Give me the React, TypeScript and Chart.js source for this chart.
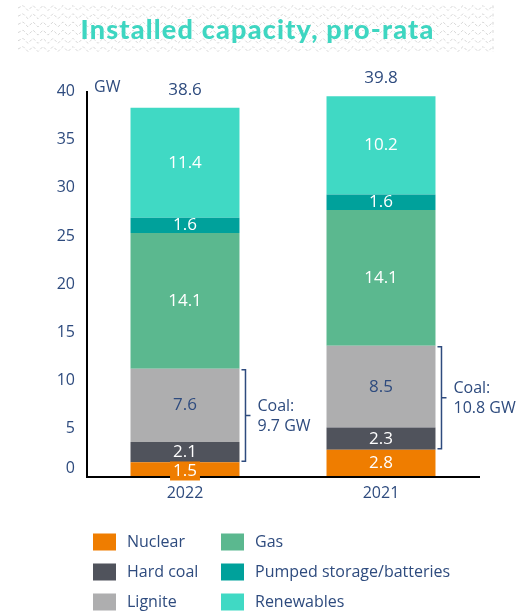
import React, { useEffect, useRef } from "react";
import { Chart, registerables } from "chart.js";

Chart.register(...registerables);

// ---- data ----
const categories = ["2022", "2021"];
const seriesNames = ["Nuclear", "Hard coal", "Lignite", "Gas", "Pumped storage/batteries", "Renewables"];
const nuclear = [1.5, 2.8];
const hardCoal = [2.1, 2.3];
const lignite = [7.6, 8.5];
const gas = [14.1, 14.1];
const pumped = [1.6, 1.6];
const renewables = [11.4, 10.2];
const totals = [38.6, 39.8];
const coalTotals = [9.7, 10.8];
const yTicks = [0, 5, 10, 15, 20, 25, 30, 35, 40];
const unitLabel = "GW";
const titleText = "Installed capacity, pro-rata";

// ---- styles ----
const series = [nuclear, hardCoal, lignite, gas, pumped, renewables];
const colors = ["#EF7D00", "#50535C", "#AEAEAF", "#5BB88F", "#00A19B", "#40D9C4"];
const labelColors = ["#FFFFFF", "#FFFFFF", "#2E4B7E", "#FFFFFF", "#FFFFFF", "#FFFFFF"];
const BLUE = "#2E4B7E";
const TEAL = "#3ED6C1";
const FONT = "'Open Sans', sans-serif";

const overlay = {
  id: "overlay",
  beforeDraw(chart: any) {
    const ctx = chart.ctx as CanvasRenderingContext2D;
    ctx.save();
    // zigzag pattern behind title
    ctx.strokeStyle = "#D6D6D6";
    ctx.lineWidth = 1;
    const x0 = 18, x1 = 493;
    for (let row = 0; row < 6; row++) {
      const yc = 8 + row * 8.2;
      ctx.beginPath();
      let up = true;
      ctx.moveTo(x0, yc);
      for (let x = x0; x <= x1; x += 5) {
        ctx.lineTo(Math.min(x + 5, x1), yc + (up ? -2.5 : 2.5));
        up = !up;
      }
      ctx.setLineDash([3, 2]);
      ctx.stroke();
    }
    ctx.setLineDash([]);
    ctx.fillStyle = TEAL;
    ctx.font = "900 27px Lato, sans-serif";
    (ctx as any).letterSpacing = "1.2px";
    ctx.textAlign = "center";
    ctx.textBaseline = "middle";
    ctx.fillText(titleText, 257.5, 30);
    (ctx as any).letterSpacing = "0px";
    ctx.restore();
  },
  afterDraw(chart: any) {
    const ctx = chart.ctx as CanvasRenderingContext2D;
    const yScale = chart.scales.y;
    const area = chart.chartArea;
    ctx.save();
    // y tick labels
    ctx.font = `16px ${FONT}`;
    ctx.fillStyle = BLUE;
    ctx.textAlign = "right";
    ctx.textBaseline = "middle";
    yTicks.forEach((t) => {
      const y = yScale.getPixelForValue(t) - (t === 0 ? 8 : 0);
      ctx.fillText(String(t), 75, y);
    });
    ctx.textAlign = "left";
    ctx.fillText(unitLabel, 94, 87);

    // value labels
    ctx.font = `17px ${FONT}`;
    ctx.textAlign = "center";
    series.forEach((s, i) => {
      const meta = chart.getDatasetMeta(i);
      meta.data.forEach((el: any, j: number) => {
        const cx = el.x;
        let cy = (el.y + el.base) / 2;
        const txt = s[j].toFixed(1);
        if (cy + 10 > area.bottom) {
          cy += 1.5;
          const w = ctx.measureText(txt).width + 6;
          ctx.fillStyle = colors[i];
          ctx.fillRect(cx - w / 2, cy - 9.5, w, 19);
        }
        ctx.fillStyle = labelColors[i];
        ctx.fillText(txt, cx, cy);
      });
    });

    // totals
    ctx.fillStyle = BLUE;
    const topMeta = chart.getDatasetMeta(series.length - 1);
    topMeta.data.forEach((el: any, j: number) => {
      ctx.fillText(totals[j].toFixed(1), el.x, yScale.getPixelForValue(totals[j]) - 15);
    });

    // coal brackets
    const nucMeta = chart.getDatasetMeta(0);
    nucMeta.data.forEach((el: any, j: number) => {
      const bx = el.x + el.width / 2 + 6;
      const yTop = yScale.getPixelForValue(nuclear[j] + hardCoal[j] + lignite[j]) + 1;
      const yBot = yScale.getPixelForValue(nuclear[j]) - 1;
      const ym = (yTop + yBot) / 2;
      ctx.strokeStyle = BLUE;
      ctx.lineWidth = 1.5;
      ctx.beginPath();
      ctx.moveTo(bx - 4, yTop);
      ctx.lineTo(bx, yTop);
      ctx.lineTo(bx, yBot);
      ctx.lineTo(bx - 4, yBot);
      ctx.moveTo(bx, ym);
      ctx.lineTo(bx + 5, ym);
      ctx.stroke();
      ctx.fillStyle = BLUE;
      ctx.font = `16px ${FONT}`;
      ctx.textAlign = "left";
      ctx.textBaseline = "middle";
      ctx.fillText("Coal:", bx + 12, ym - 9);
      ctx.fillText(`${coalTotals[j].toFixed(1)} GW`, bx + 12, ym + 11);
    });

    // legend
    const colX = [93, 221];
    const rowY = [542, 572, 602];
    ctx.font = `16px ${FONT}`;
    ctx.textAlign = "left";
    ctx.textBaseline = "middle";
    seriesNames.forEach((name, i) => {
      const x = colX[Math.floor(i / 3)];
      const y = rowY[i % 3];
      ctx.fillStyle = colors[i];
      ctx.fillRect(x, y - 8.5, 23, 17);
      ctx.fillStyle = BLUE;
      ctx.fillText(name, x + 34, y);
    });
    ctx.restore();
  },
};

export default function App() {
  const ref = useRef<HTMLCanvasElement>(null);
  useEffect(() => {
    const canvas = ref.current!;
    const chart = new Chart(canvas, {
      type: "bar",
      data: {
        labels: categories,
        datasets: series.map((s, i) => ({
          label: seriesNames[i],
          data: s,
          backgroundColor: colors[i],
          borderWidth: 0,
          barPercentage: 0.556,
          categoryPercentage: 1,
        })),
      },
      options: {
        responsive: false,
        animation: false,
        devicePixelRatio: 1,
        layout: { padding: { left: 0, right: 47, top: 91.5, bottom: 0 } },
        plugins: {
          legend: { display: false },
          tooltip: { enabled: false },
          title: { display: false },
        },
        scales: {
          x: {
            stacked: true,
            grid: { display: false, drawTicks: false },
            border: { display: true, color: "#000", width: 2, z: 1 },
            ticks: { color: BLUE, font: { family: FONT, size: 16 }, padding: 7 },
            afterFit: (s: any) => {
              s.height = 134.3;
            },
          },
          y: {
            stacked: true,
            min: 0,
            max: 40,
            grid: { display: false, drawTicks: false },
            border: { display: true, color: "#000", width: 2, z: 1 },
            ticks: { stepSize: 5, display: false },
            afterFit: (s: any) => {
              s.width = 87;
            },
          },
        },
      } as any,
      plugins: [overlay],
    });
    return () => chart.destroy();
  }, []);
  return (
    <div style={{ position: "fixed", left: 0, top: 0, width: 526, height: 611, background: "#fff" }}>
      <canvas ref={ref} width={526} height={611} />
    </div>
  );
}
